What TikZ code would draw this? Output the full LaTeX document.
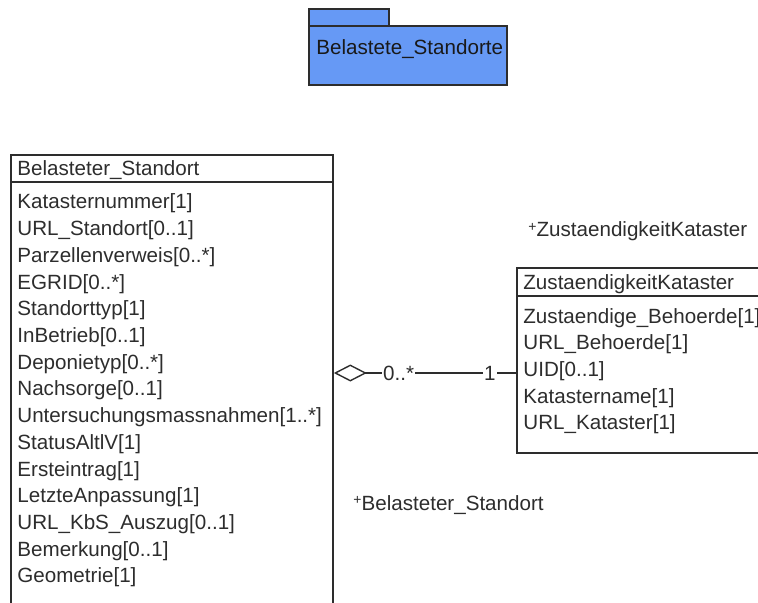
\documentclass[tikz,border=0pt]{standalone}
\usepackage{fontspec}
\setmainfont{Liberation Sans}
\usetikzlibrary{arrows.meta}
\definecolor{pkgblue}{RGB}{102,153,245}
\definecolor{ink}{RGB}{45,45,45}
\begin{document}
\begin{tikzpicture}[x=0.5pt,y=-0.5pt,
  font=\fontsize{10.3}{12}\selectfont,
  txt/.style={anchor=base west, inner sep=0pt, text=ink},
  boxline/.style={draw=ink, line width=0.8pt},
  classbox/.style={boxline, fill=white, inner sep=0pt},
  conn/.style={draw=ink, line width=0.7pt},
  mult/.style={fill=white, inner sep=0.6pt, text=ink}]
\useasboundingbox (0,0) rectangle (758,603);
\clip (0,0) rectangle (758,603);

% package
\node[boxline, fill=pkgblue, inner sep=0pt, minimum width=40pt, minimum height=8.5pt] (tab) at (349,17.5) {};
\node[boxline, fill=pkgblue, inner sep=0pt, minimum width=99pt, minimum height=29.5pt] (pkg) at (408,55.5) {};
\node[txt, text=black!90] (pkgname) at (316,55) {Belastete\_Standorte};

% class Belasteter_Standort
\node[classbox, minimum width=161pt, minimum height=245pt] (bs) at (172,400) {};
\draw[boxline] (bs.west |- 0,182) -- (bs.east |- 0,182);
\node[txt] (bshead) at (17,176) {Belasteter\_Standort};
\foreach \t [count=\i from 0] in {Katasternummer[1], URL\_Standort[0..1], Parzellenverweis[0..*], EGRID[0..*], Standorttyp[1], InBetrieb[0..1], Deponietyp[0..*], Nachsorge[0..1], Untersuchungsmassnahmen[1..*], StatusAltlV[1], Ersteintrag[1], LetzteAnpassung[1], URL\_KbS\_Auszug[0..1], Bemerkung[0..1], Geometrie[1]}
  \node[txt] (bsa\i) at (17,{209+26.7*\i}) {\t};

% class ZustaendigkeitKataster
\node[classbox, minimum width=141.5pt, minimum height=92.5pt] (zk) at (658.5,360.5) {};
\draw[boxline] (zk.west |- 0,296) -- (zk.east |- 0,296);
\node[txt] (zkhead) at (523,290) {ZustaendigkeitKataster};
\foreach \t [count=\i from 0] in {Zustaendige\_Behoerde[1], URL\_Behoerde[1], UID[0..1], Katastername[1], URL\_Kataster[1]}
  \node[txt] (zka\i) at (523,{323+26.7*\i}) {\t};

% association
\coordinate (pa) at (bs.east |- 0,373);
\coordinate (pb) at (zk.west |- 0,373);
\draw[conn, {Diamond[open, length=16.5pt, width=8.5pt, line width=0.7pt]}-] (pa) -- (pb)
  node[mult, pos=0.355] (m0) {0..*}
  node[mult, pos=0.855] (m1) {1};

% role names
\node[txt] (role1) at (528,237) {\raisebox{0.5ex}{\scriptsize+}ZustaendigkeitKataster};
\node[txt] (role2) at (353,510) {\raisebox{0.5ex}{\scriptsize+}Belasteter\_Standort};
\end{tikzpicture}
\end{document}
